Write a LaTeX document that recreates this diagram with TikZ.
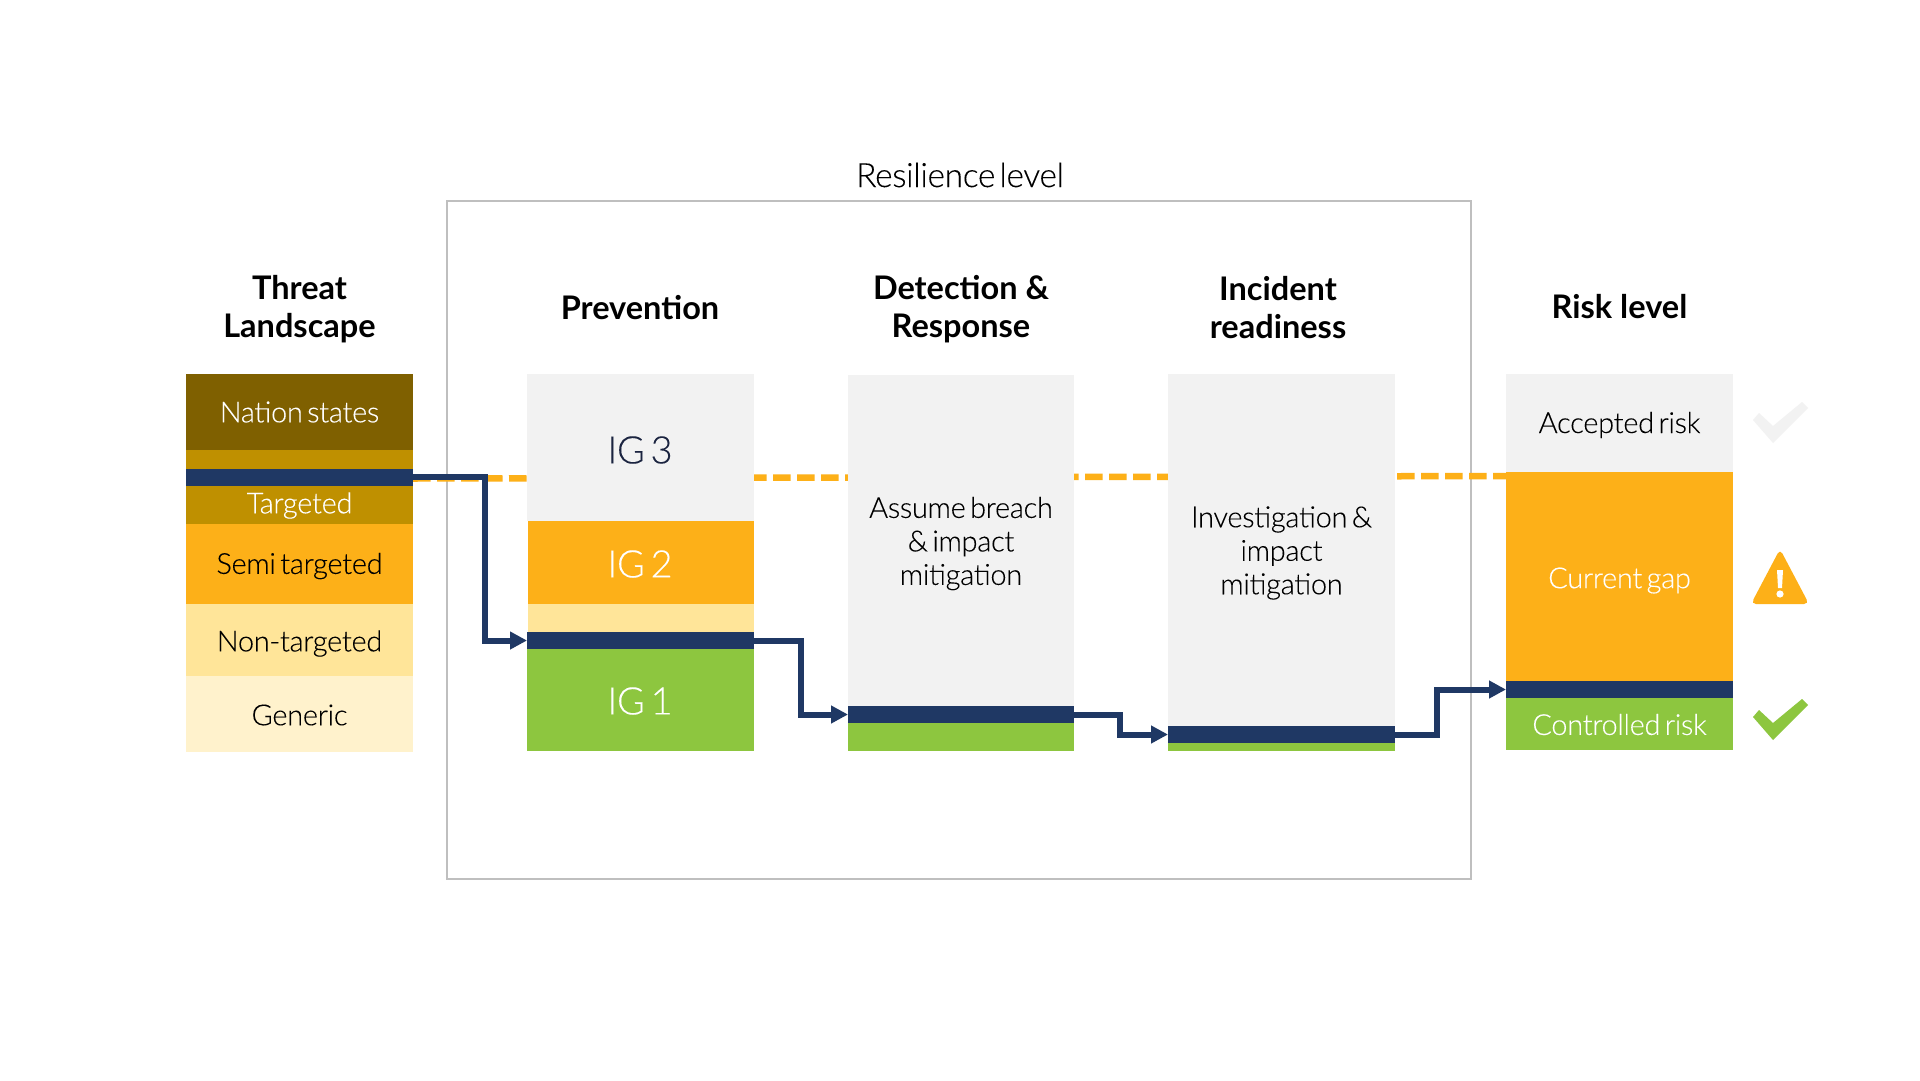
\documentclass[tikz,border=0pt]{standalone}
\usepackage{fontspec}
\setmainfont{Lato}
\newfontfamily\lightface{Lato Light}[LetterSpace=-1.0,FakeBold=0.12]
\usetikzlibrary{arrows.meta,calc}
\definecolor{navy}{HTML}{1F3864}
\definecolor{bandgrey}{HTML}{F2F2F2}
\definecolor{framegrey}{HTML}{BFBFBF}
\definecolor{umber}{HTML}{7F6000}
\definecolor{gold}{HTML}{BF9000}
\definecolor{amber}{HTML}{FDB018}
\definecolor{sand}{HTML}{FFE599}
\definecolor{cream}{HTML}{FFF2CC}
\definecolor{leaf}{HTML}{8DC63F}
\definecolor{inkblue}{HTML}{1B2440}
\tikzset{
  x=1pt,y=-1pt,
  band/.style={draw=none,inner sep=0pt,outer sep=0pt,anchor=center,align=center,text width=220pt,font=\lightface\fontsize{29}{33.5}\selectfont},
  biglabel/.style={font=\lightface\fontsize{38}{42}\selectfont},
  heading/.style={align=center,inner sep=0pt,font=\bfseries\fontsize{32.5}{38}\selectfont},
  flow/.style={navy,line width=6pt,-{Triangle[length=17pt,width=17pt]}},
  stub/.style={amber,line width=6.5pt,dash pattern=on 17.5pt off 6.5pt},
}
% a filled band given by its corners: name, x0, y0, x1, y1, colour, options, text
\newcommand{\bandnode}[8]{%
  \pgfmathsetmacro{\bw}{#4-#2}\pgfmathsetmacro{\bh}{#5-#3}%
  \node[band,fill=#6,minimum width=\bw pt,minimum height=\bh pt,#7] (#1) at ({(#2+#4)/2},{(#3+#5)/2}) {#8};%
}
% a text line placed over a band, with tight word spaces
\newcommand{\bandtext}[5]{\node[band,#4] (#1) at (#2,#3) {\spaceskip=0.15em\relax #5};}
\begin{document}
\begin{tikzpicture}
\useasboundingbox (0,0) rectangle (1920,1080);
\fill[white] (0,0) rectangle (1920,1080);

% resilience frame and its title
\node[draw=framegrey,line width=2pt,minimum width=1024pt,minimum height=678pt,inner sep=0pt] (frame) at (959,540) {};
\node[font=\lightface\fontsize{33.5}{38}\selectfont,inner sep=0pt] (frametitle) at (960,175) {\spaceskip=0.12em\relax Resilience level};

% column headings
\node[heading] (h1) at (299.5,309) {Threat\\Landscape};
\node[heading] (h2) at (640,308) {Prevention};
\node[heading] (h3) at (961,309) {Detection \&\\Response};
\node[heading] (h4) at (1278,308) {Incident\\readiness};
\node[heading] (h5) at (1619.5,306.5) {Risk level};

% resilience threshold, running behind the columns
\coordinate (d0) at (413,478.5);
\coordinate (d1) at (1506,476);
\draw[stub] (d0) -- (d1);

% threat landscape
\bandnode{t1}{186}{374}{413}{450}{umber}{}{}
\bandnode{t2}{186}{450}{413}{524}{gold}{}{}
\bandnode{t3}{186}{524}{413}{604}{amber}{}{}
\bandnode{t4}{186}{604}{413}{676}{sand}{}{}
\bandnode{t5}{186}{676}{413}{751.5}{cream}{}{}
\bandnode{tbar}{186}{469}{413}{486}{navy}{}{}
\bandtext{t1l}{299.5}{412}{text=white}{Nation states}
\bandtext{t2l}{299.5}{505.5}{text=white}{Targeted}
\bandtext{t3l}{299.5}{566}{}{Semi targeted}
\bandtext{t4l}{299.5}{643.5}{}{Non-targeted}
\bandtext{t5l}{299.5}{715}{}{Generic}

% prevention
\bandnode{p3}{527}{374}{754}{521}{bandgrey}{}{}
\bandnode{p2}{528}{521}{754}{604}{amber}{}{}
\bandnode{p2b}{528}{604}{754}{632}{sand}{}{}
\bandnode{p1}{527}{649}{754}{751}{leaf}{}{}
\bandnode{pbar}{527}{632}{754}{649}{navy}{}{}
\bandtext{p3l}{640}{450}{biglabel,text=inkblue}{IG 3}
\bandtext{p2l}{640}{564}{biglabel,text=white}{IG 2}
\bandtext{p1l}{640}{701}{biglabel,text=white}{IG 1}

% detection and response
\bandnode{d3}{848}{375}{1074}{706}{bandgrey}{}{}
\bandnode{dbar}{848}{706}{1074}{723}{navy}{}{}
\bandnode{d2}{848}{723}{1074}{751}{leaf}{}{}
\bandtext{d3l}{961}{543.5}{}{Assume breach\\\& impact\\mitigation}

% incident readiness
\bandnode{i3}{1168}{374}{1395}{726}{bandgrey}{}{}
\bandnode{ibar}{1168}{726}{1395}{743}{navy}{}{}
\bandnode{i2}{1168}{743}{1395}{751}{leaf}{}{}
\bandtext{i3l}{1281.5}{553}{}{Investigation \&\\impact\\mitigation}

% risk level
\bandnode{r3}{1506}{374}{1733}{472}{bandgrey}{}{}
\bandnode{r2}{1506}{472}{1733}{681}{amber}{}{}
\bandnode{rbar}{1506}{681}{1733}{698}{navy}{}{}
\bandnode{r1}{1506}{698}{1733}{750}{leaf}{}{}
\bandtext{r3l}{1619.5}{425}{}{Accepted risk}
\bandtext{r2l}{1619.5}{580.5}{text=white}{Current gap}
\bandtext{r1l}{1619.5}{724.5}{text=white}{Controlled risk}

% stepped flow from column to column
\coordinate (j1) at (485,560);
\coordinate (j2) at (801,680);
\coordinate (j3) at (1120,725);
\coordinate (j4) at (1437,710);
\draw[flow] ($(tbar.east)+(0,-1)$) -| (j1) |- (pbar.west);
\draw[flow] (pbar.east) -| (j2) |- (dbar.west);
\draw[flow] (dbar.east) -| (j3) |- (ibar.west);
\draw[flow] (ibar.east) -| (j4) |- (rbar.west);

% status icons
\fill[bandgrey] (1753,420) -- (1759,413) -- (1773,426) -- (1802,402) -- (1808,408) -- (1773,443) -- cycle;
\fill[leaf] (1753,717) -- (1759,710) -- (1773,723) -- (1802,699) -- (1808,705) -- (1773,740) -- cycle;
\fill[amber,rounded corners=5pt] (1780,549) -- (1809,604) -- (1751,604) -- cycle;
\fill[white] (1777,570) -- (1783,570) -- (1782,588) -- (1778,588) -- cycle;
\fill[white] (1780,594) circle (3.6);
\end{tikzpicture}
\end{document}
